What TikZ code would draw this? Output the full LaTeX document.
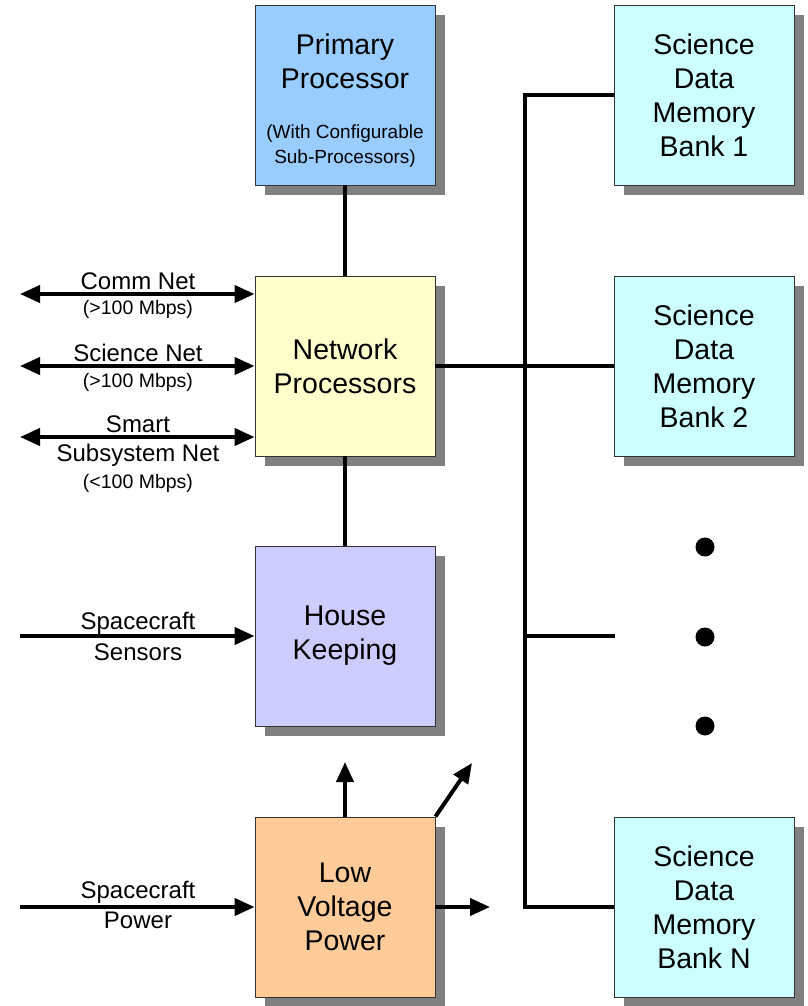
\documentclass[tikz,border=0pt]{standalone}
\usepackage{fontspec}
\setmainfont{Liberation Sans}
\usetikzlibrary{arrows.meta,backgrounds}

\definecolor{shadowgray}{HTML}{808080}
\definecolor{ppblue}{HTML}{99CCFF}
\definecolor{npyellow}{HTML}{FFFFCC}
\definecolor{hkviolet}{HTML}{CCCCFF}
\definecolor{lvporange}{HTML}{FFCC99}
\definecolor{memcyan}{HTML}{CCFFFF}

\newcommand{\smallnote}{\fontsize{19}{25}\selectfont}

\tikzset{
  block/.style={draw=black!80, line width=0.9pt, minimum width=180pt, minimum height=180pt,
    inner sep=0pt, align=center, font=\fontsize{28.5}{34}\selectfont},
  blocktext/.style={inner sep=0pt, align=center, font=\fontsize{28.5}{34}\selectfont},
  boxshadow/.style={fill=shadowgray},
  wire/.style={line width=4pt},
  tip/.style={-{Triangle[length=20pt,width=17pt]}},
  bitip/.style={{Triangle[length=20pt,width=17pt]}-{Triangle[length=20pt,width=17pt]}},
  biglabel/.style={font=\fontsize{24}{28}\selectfont, inner sep=0pt, anchor=base},
  smalllabel/.style={font=\fontsize{19.5}{22}\selectfont, inner sep=0pt, anchor=base},
  bigdot/.style={circle, fill=black, inner sep=0pt, minimum size=19pt}
}

\begin{document}
\begin{tikzpicture}[x=1pt, y=-1pt]
\useasboundingbox (0,0) rectangle (807,1006);

% processing chain
\node[block, fill=ppblue] (pp) at (345,95) {};
\node[blocktext] (ppText) at (345,101)
  {Primary\\Processor\\[16pt]\smallnote (With Configurable\\[-9pt]\smallnote Sub-Processors)};
\node[block, fill=npyellow] (np) at (345,366) {Network\\Processors};
\node[block, fill=hkviolet] (hk) at (345,636) {House\\Keeping};
\node[block, fill=lvporange] (lvp) at (345,907) {Low\\Voltage\\Power};

% memory banks
\node[block, fill=memcyan] (m1) at (704,95) {Science\\Data\\Memory\\Bank 1};
\node[block, fill=memcyan] (m2) at (704,366) {Science\\Data\\Memory\\Bank 2};
\node[block, fill=memcyan] (mN) at (704,907) {Science\\Data\\Memory\\Bank N};

% drop shadows behind every block
\begin{pgfonlayer}{background}
  \foreach \b in {pp,np,hk,lvp,m1,m2,mN}
    \fill[boxshadow] ([shift={(10,10)}]\b.north west) rectangle ([shift={(10,10)}]\b.south east);
\end{pgfonlayer}

\node[bigdot] (d1) at (705,547) {};
\node[bigdot] (d2) at (705,637) {};
\node[bigdot] (d3) at (705,726) {};

% memory bus
\coordinate (busTop) at (525,95);
\coordinate (busMid) at (525,636);
\coordinate (busBot) at (525,907);
\coordinate (stubEnd) at (615,636);
\draw[wire] (busTop) -- (busBot);
\draw[wire] ([xshift=-2pt]busTop) -- (m1.west);
\draw[wire] (np.east) -- (m2.west);
\draw[wire] (busMid) -- (stubEnd);
\draw[wire] ([xshift=-2pt]busBot) -- (mN.west);

% vertical links
\draw[wire] (pp.south) -- (np.north);
\draw[wire] (np.south) -- (hk.north);

% external networks
\coordinate (commL) at (20,294);
\coordinate (sciL) at (20,366);
\coordinate (smartL) at (20,437);
\draw[wire, bitip] (commL) -- (commL -| np.west);
\draw[wire, bitip] (sciL) -- (sciL -| np.west);
\draw[wire, bitip] (smartL) -- (smartL -| np.west);

\node[biglabel] (commT) at (138,289) {Comm Net};
\node[smalllabel] (commS) at (138,314) {(>100 Mbps)};
\node[biglabel] (sciT) at (138,361) {Science Net};
\node[smalllabel] (sciS) at (138,387) {(>100 Mbps)};
\node[biglabel] (smartT) at (138,432) {Smart};
\node[biglabel] (smartT2) at (138,461) {Subsystem Net};
\node[smalllabel] (smartS) at (138,488) {(<100 Mbps)};

% sensors and power inputs
\coordinate (sensL) at (20,636);
\coordinate (pwrL) at (20,907);
\draw[wire, tip] (sensL) -- (hk.west);
\draw[wire, tip] (pwrL) -- (lvp.west);
\node[biglabel] (sensT) at (138,629) {Spacecraft};
\node[biglabel] (sensT2) at (138,660) {Sensors};
\node[biglabel] (pwrT) at (138,898) {Spacecraft};
\node[biglabel] (pwrT2) at (138,928) {Power};

% power outputs
\coordinate (upEnd) at (345,762);
\coordinate (diagEnd) at (472,763);
\coordinate (rightEnd) at (490,907);
\draw[wire, tip] (lvp.north) -- (upEnd);
\draw[wire, tip] (lvp.north east) -- (diagEnd);
\draw[wire, tip] (lvp.east) -- (rightEnd);
\end{tikzpicture}
\end{document}
